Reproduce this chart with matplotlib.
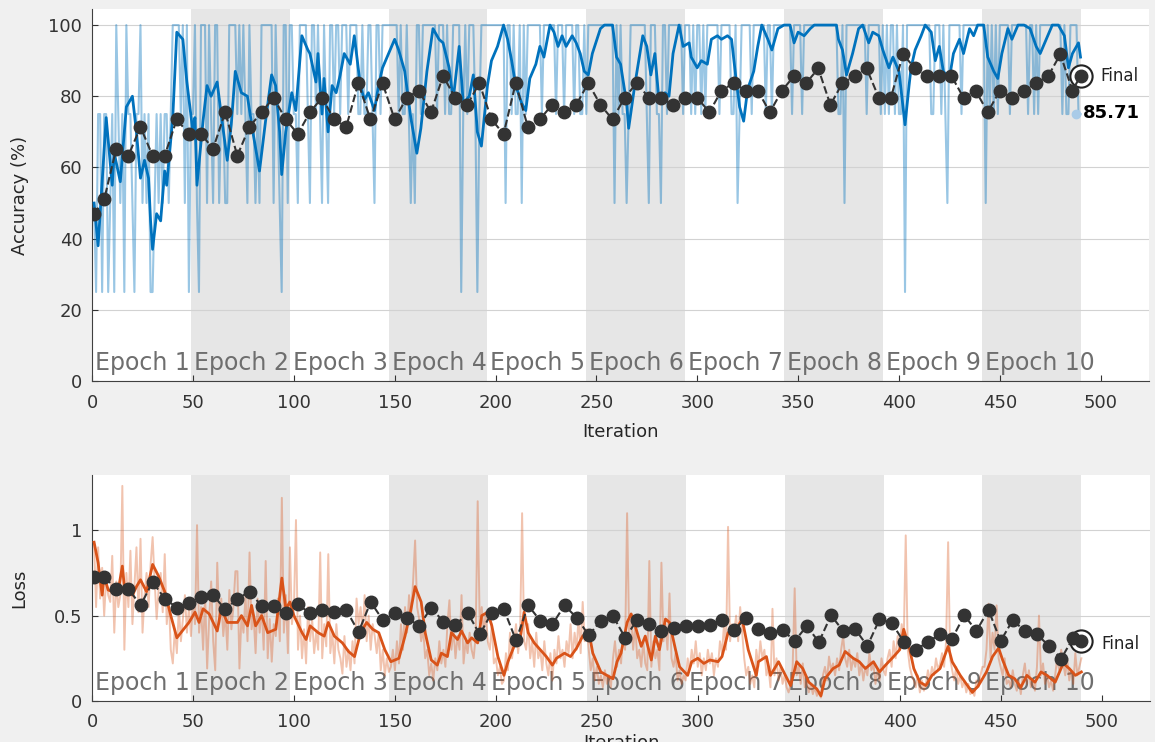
import numpy as np
import matplotlib.pyplot as plt

# mini-batch accuracy per iteration, one digit per iteration: 1=25%, 2=50%, 3=75%, 4=100%
acc_raw_codes = [
    "2133133123" "1432314332" "1334232311" "2323233234" "444342413",
    "3421444243" "2442332244" "4434343243" "3232444444" "243214424",
    "4332444432" "4434324324" "4344344434" "4443343344" "324434444",
    "4444343343" "2324434444" "4443444343" "3444413434" "443134444",
    "4444444424" "4343342434" "4444443444" "4443444344" "443443343",
    "4444444444" "4442434332" "3444444443" "2444332443" "444444434",
    "4434344343" "4444443444" "4433423444" "4434444443" "443444444",
    "4443444434" "4444444444" "4444443342" "4444444444" "344444434",
    "3434434334" "1444444444" "4443344434" "3244444434" "444444444",
    "4243434344" "4443444444" "4434434344" "4444444443" "433444433",
]

# smoothed training accuracy, (iteration, %)
acc_smooth = [
    (1, 50), (3, 38), (7, 74), (10, 55), (11, 64), (14, 56), (17, 77), (20, 80), (22, 70), (24, 57),
    (26, 62), (28, 57), (29, 45), (30, 37), (32, 47), (34, 45), (36, 59), (37, 55), (40, 74), (42, 98),
    (45, 96), (47, 84), (50, 70), (51, 74), (52, 55), (55, 73), (57, 83), (59, 80), (62, 84), (64, 75),
    (67, 62), (69, 72), (71, 87), (74, 81), (77, 80), (80, 69), (83, 59), (86, 73), (89, 86), (91, 83),
    (93, 70), (94, 58), (96, 70), (99, 81), (101, 76), (103, 90), (104, 97), (107, 93), (108, 92), (111, 84),
    (112, 92), (114, 75), (115, 85), (117, 70), (119, 83), (121, 81), (123, 86), (125, 92), (128, 89), (130, 97),
    (133, 83), (135, 79), (137, 81), (140, 76), (142, 83), (144, 88), (147, 92), (150, 96), (152, 93), (155, 87),
    (158, 74), (161, 64), (163, 71), (166, 87), (169, 99), (172, 96), (174, 95), (177, 88), (179, 79), (182, 94),
    (184, 78), (187, 80), (189, 86), (191, 70), (193, 66), (196, 83), (198, 90), (201, 94), (204, 100), (206, 96),
    (208, 90), (210, 83), (213, 78), (215, 76), (217, 85), (220, 89), (222, 94), (224, 91), (227, 100), (229, 98),
    (231, 94), (233, 97), (235, 94), (238, 97), (240, 95), (242, 92), (244, 87), (246, 86), (248, 92), (252, 99),
    (254, 100), (258, 100), (260, 91), (262, 89), (265, 78), (266, 71), (269, 83), (273, 97), (275, 94), (277, 86),
    (279, 92), (281, 79), (284, 81), (286, 80), (288, 92), (291, 100), (293, 94), (296, 95), (297, 91), (300, 88),
    (302, 90), (305, 89), (307, 96), (310, 97), (312, 96), (315, 97), (317, 96), (319, 86), (321, 77), (323, 73),
    (325, 82), (328, 87), (330, 94), (332, 100), (335, 96), (337, 93), (340, 99), (343, 100), (346, 100), (348, 95),
    (350, 98), (353, 97), (356, 99), (358, 100), (369, 100), (370, 96), (372, 93), (374, 86), (377, 92), (380, 99),
    (382, 100), (385, 95), (387, 98), (390, 97), (392, 93), (395, 88), (397, 91), (400, 87), (401, 82), (403, 72),
    (405, 83), (406, 88), (408, 93), (411, 97), (413, 100), (416, 98), (418, 90), (420, 94), (422, 87), (425, 85),
    (427, 92), (430, 96), (432, 92), (435, 99), (437, 97), (439, 100), (442, 100), (444, 91), (447, 87), (449, 85),
    (451, 92), (454, 99), (456, 96), (459, 100), (462, 100), (465, 99), (468, 94), (470, 92), (473, 96), (476, 100),
    (479, 100), (482, 97), (484, 88), (486, 92), (489, 95), (490, 91),
]

# mini-batch loss per iteration, in hundredths, one list per epoch
loss_raw_cents = [
    [92, 55, 90, 60, 78, 50, 72, 62, 58, 85, 40, 70, 55, 62, 126, 30, 75, 55, 88, 45, 68, 90, 52, 95, 40,
     62, 75, 55, 80, 96, 70, 48, 66, 75, 52, 86, 45, 60, 30, 22, 42, 28, 55, 35, 48, 62, 40, 55, 38],
    [60, 45, 103, 40, 55, 30, 62, 19, 48, 70, 35, 18, 81, 45, 60, 38, 52, 30, 65, 42, 55, 76, 76, 19, 50,
     40, 62, 35, 87, 42, 50, 28, 60, 40, 55, 30, 82, 25, 48, 23, 45, 38, 60, 35, 119, 40, 62, 28, 90],
    [45, 55, 106, 30, 50, 25, 42, 22, 55, 35, 48, 28, 40, 30, 87, 25, 45, 32, 86, 28, 40, 22, 45, 30, 25,
     16, 38, 20, 30, 18, 35, 22, 60, 45, 55, 40, 62, 35, 50, 30, 45, 38, 28, 40, 18, 30, 15, 25, 17],
    [20, 30, 18, 35, 22, 45, 30, 55, 40, 62, 50, 70, 94, 55, 48, 35, 42, 25, 30, 15, 22, 12, 25, 18, 35,
     22, 30, 20, 45, 59, 30, 42, 25, 38, 30, 62, 22, 35, 28, 40, 30, 25, 38, 117, 45, 55, 40, 52, 35],
    [30, 45, 22, 25, 15, 20, 10, 12, 28, 18, 40, 25, 35, 45, 28, 40, 110, 35, 30, 45, 25, 35, 20, 40, 25,
     30, 18, 35, 22, 15, 28, 12, 30, 22, 38, 25, 30, 20, 35, 28, 45, 25, 40, 30, 50, 28, 58, 35, 42],
    [30, 18, 25, 12, 20, 10, 15, 8, 18, 10, 15, 8, 25, 35, 20, 30, 22, 40, 30, 110, 40, 50, 30, 45, 25,
     30, 20, 35, 22, 18, 82, 20, 35, 25, 30, 18, 81, 35, 45, 30, 63, 25, 20, 28, 12, 18, 10, 15, 12],
    [25, 18, 30, 22, 35, 20, 28, 15, 25, 18, 30, 22, 28, 15, 25, 20, 35, 28, 45, 30, 102, 35, 45, 40, 50,
     35, 55, 40, 25, 15, 20, 10, 15, 8, 30, 20, 35, 25, 30, 15, 20, 8, 54, 15, 25, 12, 20, 10, 15],
    [8, 5, 10, 20, 66, 15, 20, 10, 22, 8, 12, 5, 10, 4, 8, 3, 5, 2, 15, 20, 12, 26, 18, 22, 15,
     25, 18, 30, 38, 25, 20, 30, 18, 25, 20, 28, 15, 22, 12, 20, 15, 28, 18, 22, 10, 18, 12, 25, 18],
    [15, 25, 30, 20, 35, 25, 38, 30, 45, 35, 97, 30, 20, 15, 12, 8, 15, 5, 12, 6, 10, 18, 12, 20, 15,
     25, 18, 22, 28, 20, 35, 93, 25, 18, 12, 20, 10, 15, 8, 12, 5, 10, 4, 6, 3, 12, 8, 15, 20],
    [20, 30, 57, 25, 40, 30, 56, 25, 20, 15, 25, 10, 12, 8, 18, 10, 6, 12, 4, 15, 22, 10, 18, 8, 12,
     6, 20, 50, 15, 22, 10, 15, 8, 12, 6, 15, 25, 18, 30, 22, 15, 25, 12, 18, 10, 28, 15, 20, 25],
]

# smoothed training loss, (iteration, loss)
loss_smooth = [
    (1, 0.93), (3, 0.81), (5, 0.62), (6, 0.73), (8, 0.65), (10, 0.64), (13, 0.65), (15, 0.79), (16, 0.67), (20, 0.62),
    (22, 0.67), (24, 0.71), (27, 0.64), (30, 0.80), (33, 0.73), (36, 0.64), (39, 0.50), (42, 0.37), (44, 0.40), (48, 0.46),
    (51, 0.52), (53, 0.46), (55, 0.54), (58, 0.51), (62, 0.41), (64, 0.54), (67, 0.46), (72, 0.46), (74, 0.50), (77, 0.44),
    (79, 0.56), (81, 0.44), (84, 0.50), (87, 0.40), (91, 0.42), (94, 0.72), (96, 0.54), (98, 0.58), (100, 0.50), (104, 0.40),
    (106, 0.36), (108, 0.44), (112, 0.40), (115, 0.38), (117, 0.46), (120, 0.38), (124, 0.34), (127, 0.29), (130, 0.26), (133, 0.40),
    (136, 0.46), (139, 0.42), (142, 0.40), (145, 0.30), (148, 0.23), (152, 0.25), (155, 0.38), (158, 0.54), (160, 0.67), (163, 0.58),
    (165, 0.40), (168, 0.24), (171, 0.21), (173, 0.28), (176, 0.26), (178, 0.40), (181, 0.36), (183, 0.41), (186, 0.34), (188, 0.37),
    (191, 0.34), (193, 0.50), (196, 0.52), (198, 0.44), (201, 0.26), (204, 0.15), (206, 0.23), (209, 0.32), (212, 0.36), (214, 0.52),
    (216, 0.40), (219, 0.34), (222, 0.30), (225, 0.26), (228, 0.21), (230, 0.25), (234, 0.28), (237, 0.26), (240, 0.31), (243, 0.38),
    (246, 0.41), (248, 0.28), (252, 0.17), (255, 0.15), (258, 0.13), (260, 0.23), (262, 0.28), (265, 0.46), (267, 0.51), (269, 0.44),
    (272, 0.32), (274, 0.38), (277, 0.24), (279, 0.38), (281, 0.30), (284, 0.48), (286, 0.46), (289, 0.30), (291, 0.20), (295, 0.15),
    (297, 0.23), (300, 0.25), (303, 0.22), (306, 0.24), (310, 0.23), (312, 0.26), (315, 0.40), (319, 0.42), (322, 0.48), (325, 0.30),
    (329, 0.15), (330, 0.23), (334, 0.26), (336, 0.15), (340, 0.23), (343, 0.16), (346, 0.09), (349, 0.23), (352, 0.19), (355, 0.11),
    (359, 0.07), (361, 0.03), (363, 0.13), (367, 0.19), (370, 0.21), (373, 0.29), (377, 0.25), (380, 0.23), (383, 0.19), (387, 0.23),
    (390, 0.17), (393, 0.21), (397, 0.26), (400, 0.30), (402, 0.42), (405, 0.30), (407, 0.19), (410, 0.11), (413, 0.09), (416, 0.15),
    (420, 0.19), (424, 0.32), (426, 0.23), (430, 0.15), (433, 0.10), (436, 0.05), (439, 0.09), (443, 0.17), (446, 0.26), (449, 0.31),
    (451, 0.24), (454, 0.15), (457, 0.13), (460, 0.08), (463, 0.15), (467, 0.11), (470, 0.17), (473, 0.15), (477, 0.11), (481, 0.22),
    (484, 0.19), (487, 0.15), (490, 0.17),
]

# validation, every 6 iterations plus the final one
val_iter = [1] + list(range(6, 487, 6)) + [490]
val_acc = [46.9, 51.0, 65.3, 63.3, 71.4, 63.3, 63.3, 73.5, 69.4, 69.4,
           65.3, 75.5, 63.3, 71.4, 75.5, 79.6, 73.5, 69.4, 75.5, 79.6,
           73.5, 71.4, 83.7, 73.5, 83.7, 73.5, 79.6, 81.6, 75.5, 85.7,
           79.6, 77.6, 83.7, 73.5, 69.4, 83.7, 71.4, 73.5, 77.6, 75.5,
           77.6, 83.7, 77.6, 73.5, 79.6, 83.7, 79.6, 79.6, 77.6, 79.6,
           79.6, 75.5, 81.6, 83.7, 81.6, 81.6, 75.5, 81.6, 85.7, 83.7,
           87.8, 77.6, 83.7, 85.7, 87.8, 79.6, 79.6, 91.8, 87.8, 85.7,
           85.7, 85.7, 79.6, 81.6, 75.5, 81.6, 79.6, 81.6, 83.7, 85.7,
           91.8, 81.6, 85.71]
val_loss = [0.728, 0.728, 0.654, 0.658, 0.560, 0.697, 0.599, 0.547, 0.576, 0.611,
            0.619, 0.536, 0.599, 0.640, 0.556, 0.556, 0.513, 0.566, 0.513, 0.533,
            0.521, 0.531, 0.404, 0.580, 0.474, 0.513, 0.488, 0.439, 0.547, 0.463,
            0.443, 0.517, 0.390, 0.517, 0.536, 0.355, 0.560, 0.470, 0.449, 0.560,
            0.488, 0.385, 0.470, 0.498, 0.371, 0.474, 0.449, 0.410, 0.429, 0.439,
            0.439, 0.443, 0.474, 0.416, 0.488, 0.423, 0.400, 0.416, 0.351, 0.439,
            0.345, 0.502, 0.410, 0.420, 0.322, 0.478, 0.459, 0.347, 0.299, 0.347,
            0.390, 0.365, 0.502, 0.410, 0.533, 0.351, 0.474, 0.410, 0.390, 0.322,
            0.248, 0.371, 0.351]

n_epochs = 10
iters_per_epoch = 49

acc_raw = np.array([25 * int(c) for s in acc_raw_codes for c in s])
loss_raw = np.array([v / 100 for ep in loss_raw_cents for v in ep])
it = np.arange(1, len(acc_raw) + 1)
acc_sm_x, acc_sm_y = zip(*acc_smooth)
loss_sm_x, loss_sm_y = zip(*loss_smooth)

blue = '#0072BD'
orange = '#D95319'
dark = '#333333'

fig = plt.figure(figsize=(11.55, 7.42), dpi=100, facecolor='#f0f0f0')
ax1 = fig.add_axes([0.0797, 0.4865, 0.9152, 0.5013])
ax2 = fig.add_axes([0.0797, 0.0553, 0.9160, 0.3046])


def style(ax, ymax, yticks, yticklabels, text_y):
    ax.set_facecolor('white')
    ax.set_xlim(0, 524)
    ax.set_ylim(0, ymax)
    for k in range(1, n_epochs, 2):
        ax.axvspan(k * iters_per_epoch, (k + 1) * iters_per_epoch, color='#e6e6e6', lw=0, zorder=0)
    for k in range(n_epochs):
        ax.text(k * iters_per_epoch + 1.5, text_y, f"Epoch {k + 1}", fontsize=17,
                color='#6e6e6e', va='baseline', ha='left', zorder=1)
    ax.set_xticks(range(0, 501, 50))
    ax.set_yticks(yticks)
    ax.set_yticklabels(yticklabels)
    ax.grid(axis='y', color='#d2d2d2', lw=0.8)
    ax.set_axisbelow(True)
    for s in ['top', 'right']:
        ax.spines[s].set_visible(False)
    for s in ['left', 'bottom']:
        ax.spines[s].set_color('#404040')
    ax.tick_params(direction='in', length=4, labelsize=13, colors='#333333', pad=7)
    ax.tick_params(axis='x', pad=9)


style(ax1, 104.5, range(0, 101, 20), [str(v) for v in range(0, 101, 20)], 3.2)
style(ax2, 1.324, [0, 0.5, 1], ['0', '0.5', '1'], 0.065)

# accuracy
ax1.plot(it, acc_raw, color=blue, alpha=0.4, lw=1.5, zorder=2)
ax1.plot(acc_sm_x, acc_sm_y, color=blue, lw=2, zorder=3)
ax1.plot(val_iter[-1], val_acc[-1], 'o', ms=16, mfc='white', mec='#222222', mew=1.5, zorder=4)
ax1.plot(val_iter, val_acc, '--', color=dark, lw=1.5, marker='o', ms=9, zorder=5)
ax1.plot(it[-1] - 2, acc_raw[-1], 'o', color='#a9cbe8', ms=6, zorder=4)
ax1.text(500, val_acc[-1], 'Final', fontsize=12, va='center', ha='left', color='#222222')
ax1.text(491, 75.3, f"{val_acc[-1]:.2f}", fontsize=13, fontweight='bold', va='center', ha='left',
         color='black', zorder=6)
ax1.set_ylabel('Accuracy (%)', fontsize=13, color='#262626')
ax1.set_xlabel('Iteration', fontsize=13, color='#262626')
ax1.yaxis.set_label_coords(-0.060, 0.5)
ax1.xaxis.set_label_coords(0.5, -0.113)

# loss
ax2.plot(it, loss_raw, color=orange, alpha=0.35, lw=1.4, zorder=2)
ax2.plot(loss_sm_x, loss_sm_y, color=orange, lw=2, zorder=3)
ax2.plot(val_iter[-1], val_loss[-1], 'o', ms=16, mfc='white', mec='#222222', mew=1.5, zorder=4)
ax2.plot(val_iter, val_loss, '--', color=dark, lw=1.5, marker='o', ms=9, zorder=5)
ax2.text(500, 0.335, 'Final', fontsize=12, va='center', ha='left', color='#222222')
ax2.set_ylabel('Loss', fontsize=13, color='#262626')
ax2.set_xlabel('Iteration', fontsize=13, color='#262626')
ax2.yaxis.set_label_coords(-0.060, 0.5)
ax2.xaxis.set_label_coords(0.5, -0.145)

fig.savefig('out.png', dpi=100, facecolor=fig.get_facecolor())
